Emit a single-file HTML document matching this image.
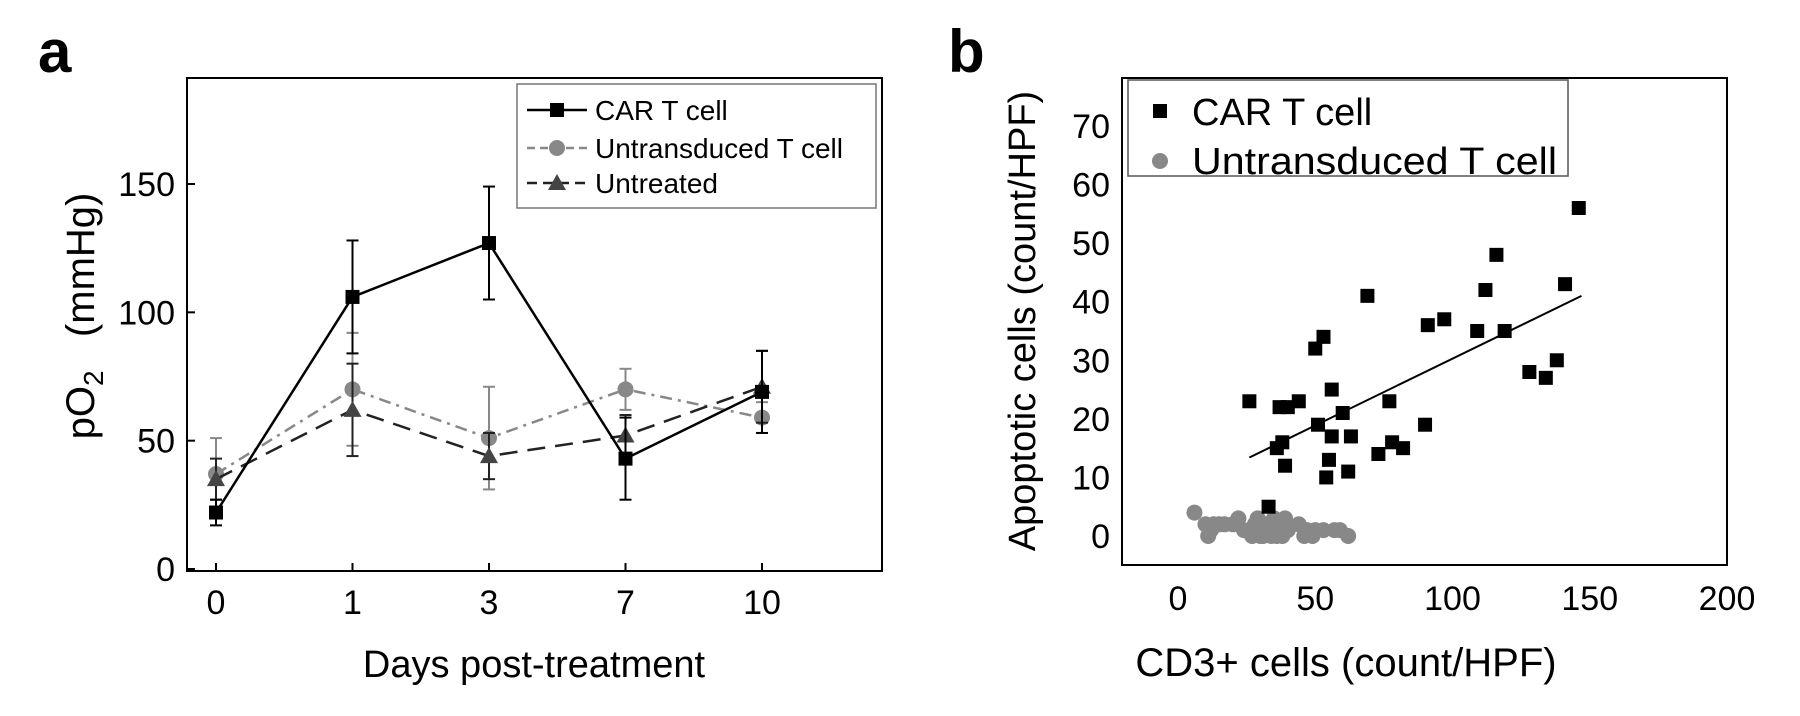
<!DOCTYPE html>
<html><head><meta charset="utf-8"><style>
html,body{margin:0;padding:0;background:#fff;}
svg{display:block;font-family:"Liberation Sans",Arial,sans-serif;}
</style></head><body>
<svg id="fig" width="1800" height="716" viewBox="0 0 1800 716" xmlns="http://www.w3.org/2000/svg">
<text x="38" y="72" font-size="60" font-weight="bold">a</text>
<text x="948" y="72" font-size="60" font-weight="bold">b</text>
<g id="pa"></g>
<g id="pb"></g>
</svg>
<script>
// Panel a data
const days = ["0","1","3","7","10"];
const carMean = [22,106,127,43,69];
const carErr = [5,22,22,16,16];
const untMean = [37,70,51,70,59];
const untErr = [14,22,20,8,6];
const nonMean = [35,62,44,52,71];
const nonErr = [8,18,9,8,14];
const yTicksA = [0,50,100,150];
// Panel b data
const carX = [26,33,36,37,38,39,40,44,50,51,53,54,55,56,56,60,62,63,69,73,77,78,82,90,91,97,109,112,116,119,128,134,138,141,146];
const carY = [23,5,15,22,16,12,22,23,32,19,34,10,13,17,25,21,11,17,41,14,23,16,15,19,36,37,35,42,48,35,28,27,30,43,56];
const untX = [6,10,11,12,13,15,17,20,22,24,27,28,29,30,31,32,33,34,35,36,37,38,39,40,44,46,47,49,50,53,57,59,62,30,33,36];
const untY = [4,2,0,1,2,2,2,2,3,1,0,2,3,1,0,2,1,0,3,1,2,0,3,1,2,0,1,0,1,1,1,1,0,0,2,0];
const fitX = [26,147];
const fitY = [13.4,41];
const xTicksB = [0,50,100,150,200];
const yTicksB = [0,10,20,30,40,50,60,70];

const NS="http://www.w3.org/2000/svg";
function mk(p,tag,a,txt){const e=document.createElementNS(NS,tag);for(const k in a)e.setAttribute(k,a[k]);if(txt!==undefined)e.textContent=txt;p.appendChild(e);return e;}

// ---------- Panel A ----------
const A=document.getElementById('pa');
const aL=187,aR=882,aT=78,aB=571;
const xA=i=>216+i*136.5;
const yA=v=>569-v*(569-184)/150;
mk(A,'rect',{x:aL,y:aT,width:aR-aL,height:aB-aT,fill:'none',stroke:'#000','stroke-width':2});
yTicksA.forEach(t=>{
 const l=mk(A,'line',{x1:aL,x2:aL+8,y1:yA(t),y2:yA(t),stroke:'#000','stroke-width':2});
 
 
 const tx=mk(A,'text',{x:aL-12,y:yA(t)+12,'font-size':34,'text-anchor':'end'},t);
 
 
});
days.forEach((d,i)=>{
 const l=mk(A,'line',{x1:xA(i),x2:xA(i),y1:aB,y2:aB-8,stroke:'#000','stroke-width':2});
 
 
 const tx=mk(A,'text',{x:xA(i),y:614,'font-size':34,'text-anchor':'middle'},d);
 
 
});
let t=mk(A,'text',{x:534,y:677,'font-size':38,'text-anchor':'middle'},'Days post-treatment');


t=mk(A,'text',{transform:'translate(94,316) rotate(-90)','font-size':40,'text-anchor':'middle'});


mk(t,'tspan',{},'pO');mk(t,'tspan',{'font-size':28,dy:9},'2');mk(t,'tspan',{dy:-9},'\u00a0\u00a0 (mmHg)');

function series(mean,err,col,dash,marker,name){
 const g=mk(A,'g',{});
 
 
 mean.forEach((m,i)=>{
  const x=xA(i);
  mk(g,'line',{x1:x,x2:x,y1:yA(m-err[i]),y2:yA(m+err[i]),stroke:col,'stroke-width':2});
  mk(g,'line',{x1:x-6,x2:x+6,y1:yA(m-err[i]),y2:yA(m-err[i]),stroke:col,'stroke-width':2});
  mk(g,'line',{x1:x-6,x2:x+6,y1:yA(m+err[i]),y2:yA(m+err[i]),stroke:col,'stroke-width':2});
 });
 mk(g,'polyline',{points:mean.map((m,i)=>xA(i)+','+yA(m)).join(' '),fill:'none',stroke:col,'stroke-width':2.5,'stroke-dasharray':dash});
 mean.forEach((m,i)=>drawMarker(g,marker,xA(i),yA(m),col));
}
function drawMarker(g,marker,x,y,col){
 if(marker==='sq')mk(g,'rect',{x:x-7,y:y-7,width:14,height:14,fill:'#000'});
 else if(marker==='ci')mk(g,'circle',{cx:x,cy:y,r:8,fill:'#888'});
 else mk(g,'polygon',{points:`${x},${y-9} ${x-9},${y+7} ${x+9},${y+7}`,fill:'#444'});
}
series(untMean,untErr,'#888','12 6 3 6','ci','series-untransduced');
series(nonMean,nonErr,'#222','18 10','tr','series-untreated');
series(carMean,carErr,'#000','','sq','series-car-t');

const lg=mk(A,'g',{});


mk(lg,'rect',{x:517,y:84,width:359,height:124,fill:'#fff',stroke:'#777','stroke-width':1.5});
[['CAR T cell','#000','','sq',110],['Untransduced T cell','#888','8 5','ci',148],['Untreated','#222','10 6','tr',183]].forEach(e=>{
 const it=mk(lg,'g',{});
 
 
 mk(it,'line',{x1:527,x2:587,y1:e[4],y2:e[4],stroke:e[1],'stroke-width':2.5,'stroke-dasharray':e[2]});
 drawMarker(it,e[3],557,e[4],e[1]);
 mk(it,'text',{x:595,y:e[4]+10,'font-size':28},e[0]);
});

// ---------- Panel B ----------
const B=document.getElementById('pb');
const bL=1122,bR=1727,bT=78,bB=565;
const xB=v=>1178+v*(1727-1178)/200;
const yB=v=>536-v*(536-126)/70;
mk(B,'rect',{x:bL,y:bT,width:bR-bL,height:bB-bT,fill:'none',stroke:'#000','stroke-width':2});
xTicksB.forEach(v=>{
 const tx=mk(B,'text',{x:xB(v),y:610,'font-size':34,'text-anchor':'middle'},v);
 
 
});
yTicksB.forEach(v=>{
 const tx=mk(B,'text',{x:bL-12,y:yB(v)+12,'font-size':34,'text-anchor':'end'},v);
 
 
});
t=mk(B,'text',{x:1346,y:676,'font-size':40,'text-anchor':'middle'},'CD3+ cells (count/HPF)');


t=mk(B,'text',{transform:'translate(1035,321) rotate(-90)','font-size':38,'text-anchor':'middle'},'Apoptotic cells (count/HPF)');


const fl=mk(B,'line',{x1:xB(fitX[0]),y1:yB(fitY[0]),x2:xB(fitX[1]),y2:yB(fitY[1]),stroke:'#000','stroke-width':2});


untX.forEach((x,i)=>{
 const c=mk(B,'circle',{cx:xB(x),cy:yB(untY[i]),r:8,fill:'#888'});
 
 
});
carX.forEach((x,i)=>{
 const r=mk(B,'rect',{x:xB(x)-7,y:yB(carY[i])-7,width:14,height:14,fill:'#000'});
 
 
});
const lb=mk(B,'g',{});


mk(lb,'rect',{x:1128,y:80,width:440,height:96,fill:'#fff',stroke:'#555','stroke-width':1.5});
mk(lb,'rect',{x:1153,y:104,width:14,height:14,fill:'#000'});
mk(lb,'text',{x:1192,y:125,'font-size':38},'CAR T cell');
mk(lb,'circle',{cx:1160,cy:161,r:8,fill:'#888'});
mk(lb,'text',{x:1192,y:174,'font-size':38,textLength:365,lengthAdjust:'spacingAndGlyphs'},'Untransduced T cell');
</script>
</body></html>
